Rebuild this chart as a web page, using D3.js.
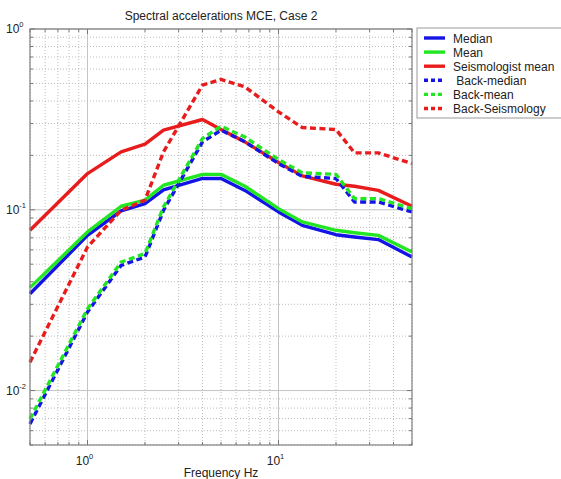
<!DOCTYPE html>
<html>
<head>
<meta charset="utf-8">
<script src="https://cdn.jsdelivr.net/npm/d3@7"></script>
<style>
  body { margin: 0; background: #fff; }
  svg { display: block; font-family: "Liberation Sans", Arial, sans-serif; }
  .grid-major { stroke: #c4c4c4; stroke-width: 1; }
  .grid-minor { stroke: #bdbdbd; stroke-width: 1; stroke-dasharray: 1,2; }
  .line { fill: none; stroke-width: 3.4; stroke-linejoin: round; }
</style>
</head>
<body>
<svg id="chart"></svg>
<script>
// frequencies (Hz) shared by every curve
const freqs = [0.5, 1, 1.5, 2, 2.5, 4, 5, 6.67, 10, 13.33, 20, 25, 33.33, 50];

const median       = [0.0343, 0.0722, 0.0985, 0.108, 0.129, 0.149, 0.149, 0.128, 0.0973, 0.082, 0.0728, 0.0707, 0.0684, 0.0548];
const mean         = [0.0371, 0.0754, 0.1046, 0.113, 0.1367, 0.157, 0.157, 0.135, 0.1015, 0.0857, 0.077, 0.0747, 0.0722, 0.0584];
const seisMean     = [0.077, 0.1586, 0.209, 0.2306, 0.2757, 0.3158, 0.278, 0.2375, 0.1825, 0.154, 0.1384, 0.135, 0.128, 0.1046];
const backMedian   = [0.00654, 0.0272, 0.0493, 0.0548, 0.0994, 0.2375, 0.2757, 0.238, 0.180, 0.153, 0.149, 0.1105, 0.1105, 0.0973];
const backMean     = [0.00697, 0.0283, 0.0514, 0.0572, 0.1037, 0.248, 0.290, 0.2526, 0.1897, 0.160, 0.157, 0.1153, 0.1153, 0.1015];
const backSeismo   = [0.01435, 0.0622, 0.0994, 0.113, 0.209, 0.4897, 0.526, 0.479, 0.348, 0.285, 0.278, 0.2064, 0.2064, 0.180];

const seriesNames = ["Median", "Mean", "Seismologist mean", " Back-median", "Back-mean", "Back-Seismology"];
const xDomain = [0.5, 50];
const yDomain = [0.005, 1];

const series = [
  { name: seriesNames[0], values: median,     color: "#1414e6", dash: null },
  { name: seriesNames[1], values: mean,       color: "#22e622", dash: null },
  { name: seriesNames[2], values: seisMean,   color: "#e81c1c", dash: null },
  { name: seriesNames[3], values: backMedian, color: "#1414e6", dash: "6,3.5" },
  { name: seriesNames[4], values: backMean,   color: "#22e622", dash: "6,3.5" },
  { name: seriesNames[5], values: backSeismo, color: "#e81c1c", dash: "6,3.5" }
];

const W = 561, H = 479;
const margin = { top: 29, left: 30, right: 149, bottom: 34 };
const width = W - margin.left - margin.right,
  height = H - margin.top - margin.bottom;

const svg = d3.select("#chart").attr("width", W).attr("height", H);
const g = svg.append("g").attr("transform", "translate(" + margin.left + "," + margin.top + ")");

const x = d3.scaleLog().domain(xDomain).range([0, width]);
const y = d3.scaleLog().domain(yDomain).range([height, 0]);

// tick values, major = decades
const xTicks = x.ticks().filter(t => t >= xDomain[0] && t <= xDomain[1]);
const yTicks = y.ticks().filter(t => t >= yDomain[0] && t <= yDomain[1]);
const isMajor = t => Math.abs(Math.log10(t) - Math.round(Math.log10(t))) < 1e-9;

// grid
g.selectAll(".gx").data(xTicks).enter().append("line")
  .attr("class", d => isMajor(d) ? "grid-major" : "grid-minor")
  .attr("x1", d => x(d)).attr("x2", d => x(d))
  .attr("y1", 0).attr("y2", height);
g.selectAll(".gy").data(yTicks).enter().append("line")
  .attr("class", d => isMajor(d) ? "grid-major" : "grid-minor")
  .attr("x1", 0).attr("x2", width)
  .attr("y1", d => y(d)).attr("y2", d => y(d));

// tick marks inside box, on all four sides
const tk = g.append("g").attr("stroke", "#777").attr("stroke-width", 1);
xTicks.forEach(t => {
  const L = isMajor(t) ? 5 : 3;
  tk.append("line").attr("x1", x(t)).attr("x2", x(t)).attr("y1", height).attr("y2", height - L);
  tk.append("line").attr("x1", x(t)).attr("x2", x(t)).attr("y1", 0).attr("y2", L);
});
yTicks.forEach(t => {
  const L = isMajor(t) ? 5 : 3;
  tk.append("line").attr("y1", y(t)).attr("y2", y(t)).attr("x1", 0).attr("x2", L);
  tk.append("line").attr("y1", y(t)).attr("y2", y(t)).attr("x1", width).attr("x2", width - L);
});

// curves
const line = d3.line()
  .x((d, i) => x(freqs[i]))
  .y(d => y(d));

series.forEach(s => {
  g.append("path")
    .datum(s.values)
    .attr("class", "line")
    .attr("stroke", s.color)
    .attr("stroke-dasharray", s.dash)
    .attr("d", line);
});

// frame
g.append("rect").attr("width", width).attr("height", height)
  .attr("fill", "none").attr("stroke", "#808080").attr("stroke-width", 1.2);

// tick labels like 10^0
function powLabel(sel, exp) {
  sel.append("tspan").text("10");
  sel.append("tspan").attr("dy", -6).attr("font-size", 7.5).text(exp);
}
xTicks.filter(isMajor).forEach(t => {
  const tx = g.append("text").attr("x", x(t) - 3).attr("y", height + 20)
    .attr("text-anchor", "middle").attr("font-size", 12).attr("fill", "#222");
  powLabel(tx, Math.round(Math.log10(t)));
});
yTicks.filter(isMajor).forEach(t => {
  const ty = g.append("text").attr("x", -24).attr("y", y(t) + 4)
    .attr("font-size", 12).attr("fill", "#222");
  powLabel(ty, Math.round(Math.log10(t)));
});

// title and axis label
svg.append("text").attr("x", margin.left + width / 2).attr("y", 20)
  .attr("text-anchor", "middle").attr("font-size", 12).attr("fill", "#222")
  .text("Spectral accelerations MCE, Case 2");
svg.append("text").attr("x", margin.left + width / 2).attr("y", 477)
  .attr("text-anchor", "middle").attr("font-size", 12).attr("fill", "#222")
  .text("Frequency Hz");

// legend
const lg = svg.append("g").attr("transform", "translate(417,28)");
lg.append("rect").attr("width", 150).attr("height", 90)
  .attr("fill", "#fff").attr("stroke", "#999").attr("stroke-width", 1);
series.forEach((s, i) => {
  const yy = 10 + i * 14.1;
  lg.append("line").attr("x1", 7).attr("x2", 28).attr("y1", yy).attr("y2", yy)
    .attr("stroke", s.color).attr("stroke-width", 3.4)
    .attr("stroke-dasharray", s.dash ? "4,3" : null);
  lg.append("text").attr("x", 36).attr("y", yy + 4.5)
    .attr("font-size", 12).attr("fill", "#222")
    .attr("xml:space", "preserve").style("white-space", "pre")
    .text(s.name);
});
</script>
</body>
</html>
